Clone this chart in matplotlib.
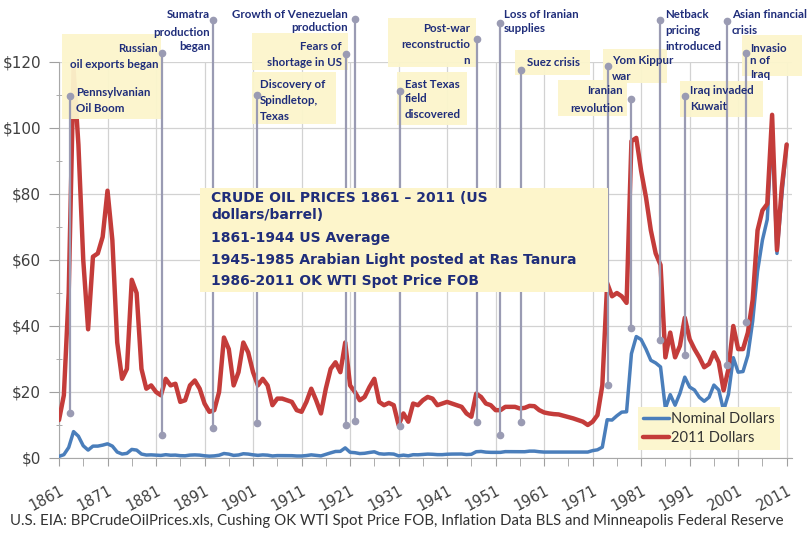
import matplotlib.pyplot as plt
import matplotlib.patches as mpatches
import numpy as np

W, H = 808, 537

years = np.arange(1861, 2012)

# nominal dollars per barrel
nominal = [0.5, 1.0, 3.2, 8.0, 6.6, 3.7, 2.4, 3.6, 3.6, 3.9,
           4.3, 3.6, 1.8, 1.2, 1.4, 2.6, 2.4, 1.2, 0.9, 0.95,
           0.86, 0.78, 1.0, 0.84, 0.88, 0.71, 0.67, 0.88, 0.94, 0.87,
           0.67, 0.56, 0.64, 0.84, 1.36, 1.18, 0.79, 0.91, 1.29, 1.19,
           0.96, 0.8, 0.94, 0.86, 0.62, 0.73, 0.72, 0.72, 0.7, 0.61,
           0.61, 0.74, 0.95, 0.81, 0.64, 1.1, 1.56, 1.98, 2.01, 3.07,
           1.73, 1.61, 1.34, 1.43, 1.68, 1.88, 1.3, 1.17, 1.27, 1.19,
           0.65, 0.87, 0.67, 1.0, 0.97, 1.09, 1.18, 1.13, 1.02, 1.02,
           1.14, 1.19, 1.2, 1.21, 1.05, 1.12, 1.9, 1.99, 1.78, 1.71,
           1.71, 1.71, 1.93, 1.93, 1.93, 1.93, 1.9, 2.08, 2.08, 1.9,
           1.8, 1.8, 1.8, 1.8, 1.8, 1.8, 1.8, 1.8, 1.8, 1.8,
           2.24, 2.48, 3.29, 11.6, 11.5, 12.8, 13.9, 14.0, 31.6, 36.8,
           35.9, 33.0, 29.6, 28.8, 27.6, 15.0, 19.2, 16.0, 19.6, 24.5,
           21.5, 20.6, 18.4, 17.2, 18.4, 22.1, 20.6, 14.4, 19.3, 30.4,
           26.0, 26.2, 31.1, 41.5, 56.6, 66.0, 72.3, 99.7, 62.0, 79.5,
           95.0]

# 2011 dollars per barrel
real_2011 = [11.5, 19, 50, 118, 95, 60, 39, 61, 62, 67,
             81, 66, 35, 24, 27, 54, 50, 27, 21, 22,
             20, 19, 24, 22, 22.5, 17, 17.5, 22, 23.5, 21,
             16.5, 14, 14.5, 20, 36.5, 33, 22, 26, 35, 32,
             26, 22, 24, 22, 16, 18, 18, 17.5, 17, 14.5,
             14, 17, 21, 17.5, 13.5, 21, 27, 29, 26, 35,
             22, 20, 17.5, 18.5, 21.5, 24, 17, 16, 16.7, 16,
             10, 13.5, 11, 16.5, 16, 17.5, 18.5, 18, 16, 16.5,
             17, 16.5, 16, 15.5, 13.5, 12.5, 19.5, 18.5, 16.5, 16,
             14.5, 14.5, 15.5, 15.5, 15.5, 15, 15.2, 15.8, 15.7, 14.5,
             13.8, 13.5, 13.3, 13.2, 12.8, 12.4, 12, 11.5, 11, 10,
             11, 13, 22, 53, 49, 50, 49, 47, 96, 97,
             87, 79, 69, 62, 58.5, 30.5, 38, 30.5, 34, 42.5,
             36, 33, 30.5, 27.5, 28.5, 32, 29, 20.5, 27, 40,
             33, 33, 38, 48, 69, 75, 77, 104, 63, 82,
             95]

tick_years = list(range(1861, 2012, 10))
price_ticks = [0, 20, 40, 60, 80, 100, 120]

# event markers: year, low end, high end (dollars)
event_years = [1863.3, 1882.2, 1892.8, 1901.8, 1920.2, 1922.0, 1931.3, 1947.2,
               1951.9, 1956.3, 1974.2, 1978.9, 1984.9, 1990.1, 1998.7, 2002.6]
event_low = [13.6, 7, 9, 10.6, 10, 11.2, 9.7, 10.9,
             7, 10.9, 22, 39.4, 35.8, 31.2, 28.2, 41.2]
event_high = [109.7, 122.7, 132.7, 110, 122.4, 133, 111.2, 127,
              131.8, 117.6, 118.8, 108.8, 132.7, 109.7, 132.4, 122.7]

# annotation text: (text, x px, y px, alignment)
labels = [
    ("Sumatra", 210, 14, "right"), ("production", 210, 32, "right"), ("began", 210, 47, "right"),
    ("Russian", 158, 48, "right"), ("oil exports began", 158, 65, "right"),
    ("Pennsylvanian", 76, 92, "left"), ("Oil Boom", 76, 108, "left"),
    ("Growth of Venezuelan", 348, 14, "right"), ("production", 348, 28, "right"),
    ("Fears of", 342, 47, "right"), ("shortage in US", 342, 62, "right"),
    ("Discovery of", 260, 85, "left"), ("Spindletop,", 260, 100, "left"), ("Texas", 260, 117, "left"),
    ("Post-war", 470, 29, "right"), ("reconstructio", 470, 45, "right"), ("n", 470, 61, "right"),
    ("East Texas", 405, 85, "left"), ("field", 405, 99, "left"), ("discovered", 405, 115, "left"),
    ("Loss of Iranian", 504, 15, "left"), ("supplies", 504, 29, "left"),
    ("Suez crisis", 527, 63, "left"),
    ("Yom Kippur", 612, 60, "left"), ("war", 612, 77, "left"),
    ("Iranian", 623, 91, "right"), ("revolution", 623, 108, "right"),
    ("Netback", 665, 15, "left"), ("pricing", 665, 31, "left"), ("introduced", 665, 46, "left"),
    ("Iraq invaded", 690, 91, "left"), ("Kuwait", 690, 106, "left"),
    ("Asian financial", 732, 15, "left"), ("crisis", 732, 30, "left"),
    ("Invasio", 750, 48, "left"), ("n of", 750, 61, "left"), ("Iraq", 750, 75, "left"),
]

# note boxes in px: x0, y0, x1, y1
boxes = [(62, 34, 161, 119), (252, 33, 348, 70), (252, 72, 336, 124),
         (388, 18, 476, 67), (397, 72, 467, 125), (515, 50, 590, 75),
         (603, 49, 667, 83), (558, 80, 627, 116), (680, 81, 763, 117),
         (742, 35, 802, 76)]

title_lines = ["CRUDE OIL PRICES 1861 \u2013 2011 (US", "dollars/barrel)",
               "1861-1944 US Average", "1945-1985 Arabian Light posted at Ras Tanura",
               "1986-2011 OK WTI Spot Price FOB"]
title_y = [198, 215, 238, 260, 281]

source = ("U.S. EIA: BPCrudeOilPrices.xls, Cushing OK WTI Spot Price FOB, "
          "Inflation Data BLS and Minneapolis Federal Reserve")


def fx(x):
    return x / W


def fy(y):
    return 1 - y / H


narrow = ["Lato", "DejaVu Sans"]
navy = "#1f2d7a"
note_col = "#9a9bb3"

fig = plt.figure(figsize=(W / 100, H / 100), dpi=100)
ax = fig.add_axes([fx(59), fy(458), (792 - 59) / W, (458 - 62) / H])

ax.plot(years, nominal, color="#4a7ebb", lw=2.5, zorder=3, solid_joinstyle="round",
        solid_capstyle="round", label="Nominal Dollars")
ax.plot(years, real_2011, color="#c43c3a", lw=3.2, zorder=4, solid_joinstyle="round",
        solid_capstyle="round", label="2011 Dollars")

ax.set_xlim(1861, 2012.1)
ax.set_ylim(0, 120)
ax.set_xticks(tick_years)
ax.set_xticks(range(1866, 2012, 10), minor=True)
ax.set_yticks(price_ticks)
ax.set_yticks(range(10, 120, 20), minor=True)
ax.set_yticklabels(["$%d" % v for v in price_ticks])
ax.set_xticklabels([str(y) for y in tick_years], rotation=28, ha="right",
                   rotation_mode="anchor")
ax.tick_params(axis="y", which="major", labelsize=11, labelcolor="#404040",
               length=7, color="#a0a0a0", pad=6)
ax.tick_params(axis="y", which="minor", length=4, direction="inout", color="#a0a0a0")
ax.tick_params(axis="x", which="both", labelsize=10.5, labelcolor="#404040",
               length=6, color="#a0a0a0", pad=12)
ax.grid(True, which="major", color="#d2d2d2", lw=0.9)
ax.set_axisbelow(True)
for side in ["top", "right"]:
    ax.spines[side].set_visible(False)
for side in ["left", "bottom"]:
    ax.spines[side].set_color("#a8a8a8")

# yellow note boxes, laid over the lines like the original
for x0, y0, x1, y1 in boxes:
    ax.add_patch(mpatches.Rectangle((fx(x0), fy(y1)), (x1 - x0) / W, (y1 - y0) / H,
                                    transform=fig.transFigure, facecolor="#fcf5cc",
                                    edgecolor="none", alpha=0.95, zorder=4.5, clip_on=False))

# event stems
for yr, lo, hi in zip(event_years, event_low, event_high):
    ax.plot([yr, yr], [lo, hi], color=note_col, lw=1.6, zorder=4.7, clip_on=False,
            marker="o", ms=4.5, mec=note_col, mfc=note_col)

for s, x, y, ha in labels:
    ax.text(fx(x), fy(y), s, transform=fig.transFigure, ha=ha, va="center",
            fontsize=8.3, fontweight="bold", color=navy, family=narrow, zorder=6)

# title box
ax.add_patch(mpatches.Rectangle((fx(200), fy(292)), (608 - 200) / W, (292 - 188) / H,
                                transform=fig.transFigure, facecolor="#fdf5cb",
                                edgecolor="none", zorder=5, clip_on=False))
for s, y in zip(title_lines, title_y):
    ax.text(fx(211), fy(y), s, transform=fig.transFigure, ha="left", va="center",
            fontsize=10, fontweight="bold", color=navy, zorder=6)

leg = ax.legend(loc="lower right", bbox_to_anchor=(fx(787), fy(457)),
                bbox_transform=fig.transFigure, frameon=True, fancybox=False,
                facecolor="#fcf6cf", edgecolor="none", framealpha=1,
                handlelength=1.8, handletextpad=0.1,
                labelspacing=0.3, borderpad=0.35, prop={"family": narrow, "size": 10.5})
for t in leg.get_texts():
    t.set_color("#333333")
leg.set_zorder(7)

fig.text(fx(10), fy(521), source, ha="left", va="center", fontsize=10.8,
         color="#333333", family=narrow)

fig.savefig("out.png", dpi=100)
